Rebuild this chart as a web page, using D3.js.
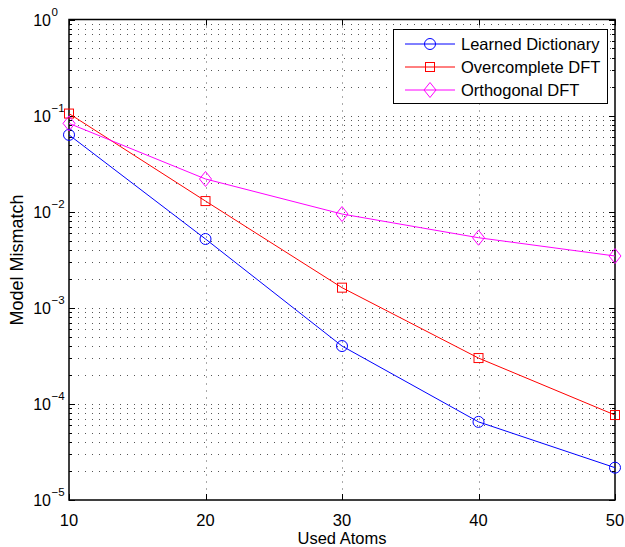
<!DOCTYPE html>
<html>
<head>
<meta charset="utf-8">
<script src="https://cdn.jsdelivr.net/npm/d3@7"></script>
<style>
body { margin: 0; background: #fff; }
text { font-family: "Liberation Sans", Arial, sans-serif; }
</style>
</head>
<body>
<div id="chart"></div>
<script>
// data
var atoms = [10, 20, 30, 40, 50];
var learned = [0.063, 0.0052, 0.0004, 0.000065, 0.0000217];
var overcomplete = [0.105, 0.0129, 0.00162, 0.0003, 0.0000766];
var orthogonal = [0.083, 0.0219, 0.00946, 0.00536, 0.00346];
var seriesNames = ["Learned Dictionary", "Overcomplete DFT", "Orthogonal DFT"];
var seriesColors = ["#0000ff", "#ff0000", "#ff00ff"];
var seriesMarkers = ["circle", "square", "diamond"];
var xTicks = [10, 20, 30, 40, 50];
var yExponents = [0, -1, -2, -3, -4, -5];

var width = 625, height = 547;
var pLeft = 69, pRight = 615, pTop = 19.5, pBottom = 500;

var svg = d3.select("#chart").append("svg").attr("width", width).attr("height", height);

var x = d3.scaleLinear().domain([10, 50]).range([pLeft, pRight]);
var y = d3.scaleLog().domain([1e-5, 1]).range([pBottom, pTop]);

// grid lines (dotted, MATLAB style)
var minorVals = [];
for (var e = -5; e < 0; e++) {
	for (var m = 1; m < 10; m++) { minorVals.push(m * Math.pow(10, e)); }
}
var grid = svg.append("g").attr("class", "grid");
grid.selectAll(".hgrid").data(minorVals.filter(function(d){ return d > 1.1e-5; })).enter().append("line")
	.attr("class", "hgrid")
	.attr("x1", pLeft + 2).attr("x2", pRight)
	.attr("y1", function(d){ return Math.round(y(d)) + 0.5; })
	.attr("y2", function(d){ return Math.round(y(d)) + 0.5; })
	.style("stroke", "#555").style("stroke-width", 1).style("stroke-dasharray", "1,6");
grid.selectAll(".vgrid").data(xTicks.slice(1, 4)).enter().append("line")
	.attr("class", "vgrid")
	.attr("x1", function(d){ return Math.round(x(d)) + 0.5; })
	.attr("x2", function(d){ return Math.round(x(d)) + 0.5; })
	.attr("y1", pTop).attr("y2", pBottom)
	.style("stroke", "#555").style("stroke-width", 1).style("stroke-dasharray", "1,6");

// tick marks inside all four sides
var ticks = svg.append("g").attr("class", "ticks").style("stroke", "#000").style("stroke-width", 1);
minorVals.concat([1]).forEach(function(d){
	var major = Math.abs(Math.log10(d) - Math.round(Math.log10(d))) < 1e-9;
	var len = major ? 6 : 3;
	var yy = Math.round(y(d)) + 0.5;
	ticks.append("line").attr("x1", pLeft).attr("x2", pLeft + len).attr("y1", yy).attr("y2", yy);
	ticks.append("line").attr("x1", pRight - len).attr("x2", pRight).attr("y1", yy).attr("y2", yy);
});
xTicks.forEach(function(d){
	var xx = Math.round(x(d)) + 0.5;
	ticks.append("line").attr("x1", xx).attr("x2", xx).attr("y1", pBottom).attr("y2", pBottom - 6);
	ticks.append("line").attr("x1", xx).attr("x2", xx).attr("y1", pTop).attr("y2", pTop + 6);
});

// frame
svg.append("rect").attr("x", pLeft).attr("y", pTop).attr("width", pRight - pLeft).attr("height", pBottom - pTop)
	.style("fill", "none").style("stroke", "#000").style("stroke-width", 1.5);

// x labels
svg.append("g").selectAll("text").data(xTicks).enter().append("text")
	.attr("x", function(d){ return x(d); }).attr("y", 526)
	.attr("text-anchor", "middle").style("font-size", "16.5px").text(function(d){ return d; });

// y labels 10^e : base "10" right edge fixed, exponent after it
var yl = svg.append("g").selectAll("g").data(yExponents).enter().append("g");
yl.append("text").attr("x", 51).attr("y", function(d){ return y(Math.pow(10, d)) + 6; })
	.attr("text-anchor", "end").style("font-size", "16px").text("10");
yl.append("text").attr("x", 51.5).attr("y", function(d){ return y(Math.pow(10, d)) - 4; })
	.style("font-size", "11.5px")
	.text(function(d){ return d === 0 ? "0" : "\u2212" + (-d); });

// axis titles
svg.append("text").attr("x", (pLeft + pRight) / 2).attr("y", 544).attr("text-anchor", "middle")
	.style("font-size", "16.5px").text("Used Atoms");
svg.append("text").attr("transform", "translate(23,260)rotate(-90)")
	.attr("text-anchor", "middle").style("font-size", "18px").text("Model Mismatch");

// marker drawing
function drawMarker(g, type, cx, cy, color) {
	if (type === "circle") {
		g.append("circle").attr("cx", cx).attr("cy", cy).attr("r", 5.5)
			.style("fill", "none").style("stroke", color).style("stroke-width", 1);
	} else if (type === "square") {
		g.append("rect").attr("x", cx - 4.5).attr("y", cy - 4.5).attr("width", 9).attr("height", 9)
			.style("fill", "none").style("stroke", color).style("stroke-width", 1);
	} else {
		g.append("path").attr("d", "M" + cx + "," + (cy - 7.5) + "L" + (cx + 6) + "," + cy + "L" + cx + "," + (cy + 7.5) + "L" + (cx - 6) + "," + cy + "Z")
			.style("fill", "none").style("stroke", color).style("stroke-width", 1);
	}
}

var allSeries = [learned, overcomplete, orthogonal];
var line = d3.line().x(function(d, i){ return x(atoms[i]); }).y(function(d){ return y(d); });
var plot = svg.append("g");
allSeries.forEach(function(s, k){
	plot.append("path").attr("d", line(s)).style("fill", "none")
		.style("stroke", seriesColors[k]).style("stroke-width", 1);
	s.forEach(function(v, i){ drawMarker(plot, seriesMarkers[k], x(atoms[i]), y(v), seriesColors[k]); });
});

// legend
var leg = svg.append("g");
leg.append("rect").attr("x", 393.5).attr("y", 29.5).attr("width", 214).attr("height", 74)
	.style("fill", "#fff").style("stroke", "#000").style("stroke-width", 1);
seriesNames.forEach(function(n, k){
	var ly = 44 + k * 23;
	leg.append("line").attr("x1", 405).attr("x2", 455).attr("y1", ly).attr("y2", ly)
		.style("stroke", seriesColors[k]).style("stroke-width", 1);
	drawMarker(leg, seriesMarkers[k], 430, ly, seriesColors[k]);
	leg.append("text").attr("x", 461).attr("y", ly + 6).style("font-size", "16.5px").text(n);
});
</script>
</body>
</html>
